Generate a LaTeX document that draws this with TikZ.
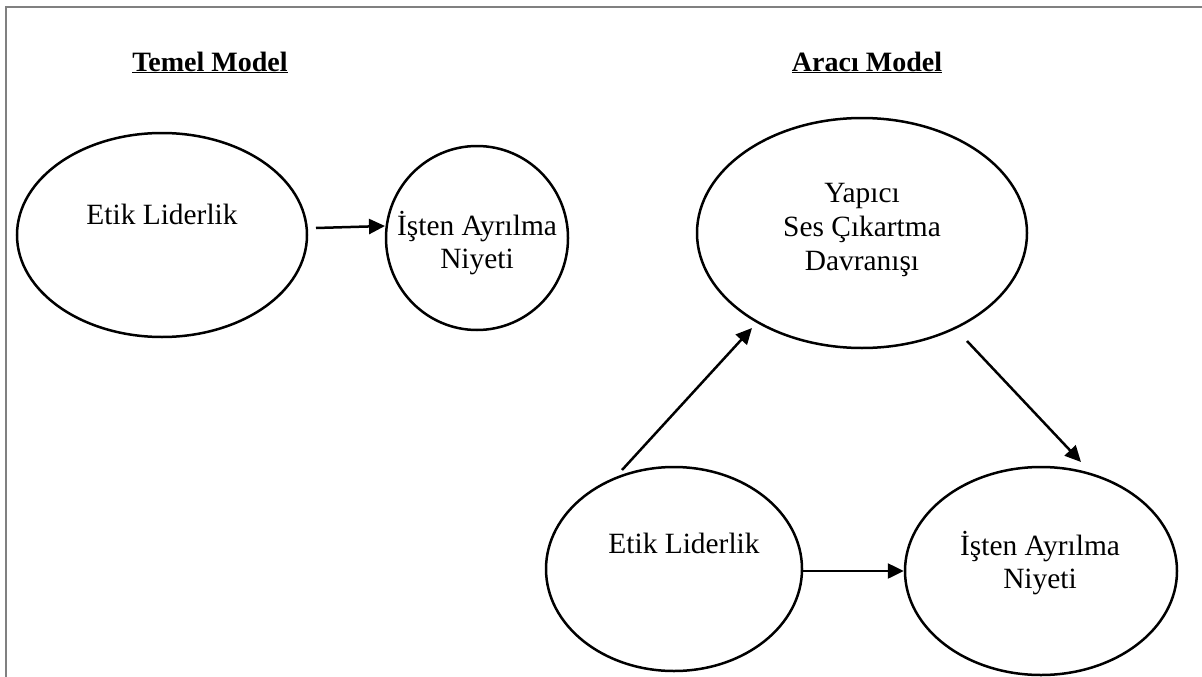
\documentclass[tikz,border=0pt]{standalone}
\usepackage{fontspec}
\setmainfont{Liberation Serif}
\usetikzlibrary{shapes.geometric,arrows.meta,calc}
\begin{document}
\begin{tikzpicture}[x=1pt,y=-1pt,
  oval/.style={draw,ellipse,line width=2.5pt,inner sep=0pt},
  lbl/.style={anchor=base,inner sep=0pt,font=\fontsize{29.4}{33}\selectfont},
  ttl/.style={anchor=base,font=\fontsize{28}{30}\selectfont\bfseries,inner sep=0pt},
  arr/.style={line width=2.5pt,-{Triangle[length=16pt,width=15pt]}},
  frame/.style={draw=black!50,line width=2pt}]
\useasboundingbox (0,0) rectangle (1202,677);
\draw[frame] (6,677) -- (6,7) -- (1202,7);
% titles
\node[ttl] (t1) at (210,71) {\underline{Temel Model}};
\node[ttl] (t2) at (867,71) {\underline{Aracı Model}};
% ellipses
\node[oval,minimum width=290pt,minimum height=204pt] (e1) at (162,235) {};
\node[oval,minimum width=182pt,minimum height=184pt] (e2) at (477,238) {};
\node[oval,minimum width=330pt,minimum height=230pt] (e3) at (862,233) {};
\node[oval,minimum width=256pt,minimum height=204pt] (e4) at (674,569) {};
\node[oval,minimum width=272pt,minimum height=208pt] (e5) at (1041,571) {};
% texts
\node[lbl] (x1) at (162,224) {Etik Liderlik};
\node[lbl] (x2a) at (477,235) {İşten Ayrılma};
\node[lbl] (x2b) at (477,268) {Niyeti};
\node[lbl] (x3a) at (862,202) {Yapıcı};
\node[lbl] (x3b) at (862,236) {Ses Çıkartma};
\node[lbl] (x3c) at (862,270) {Davranışı};
\node[lbl] (x4) at (684,553) {Etik Liderlik};
\node[lbl] (x5a) at (1040,555) {İşten Ayrılma};
\node[lbl] (x5b) at (1040,588) {Niyeti};
% arrows
\draw[arr] ($(e1.center)+(154,-7)$) -- ($(e2.center)+(-92,-12)$);
\draw[arr] ($(e4.center)+(-52,-99)$) -- ($(e3.center)+(-110,95)$);
\draw[arr] ($(e3.center)+(105,108)$) -- ($(e5.center)+(40,-109)$);
\draw[arr] (e4.east |- e5.west) -- (e5.west);
\end{tikzpicture}
\end{document}
